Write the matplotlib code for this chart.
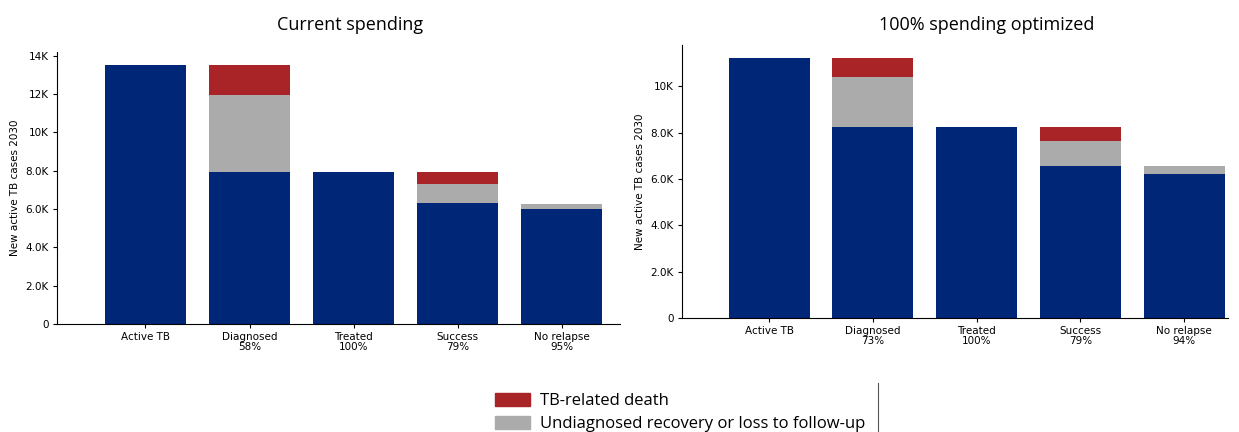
import numpy as np
import matplotlib
matplotlib.use('Agg')
import matplotlib.pyplot as plt
from matplotlib.patches import Patch
from matplotlib.lines import Line2D

# Andmed (tuhandetes juhtudes)
kategooriad = ['Active TB', 'Diagnosed\n58%', 'Treated\n100%', 'Success\n79%', 'No relapse\n95%']
kategooriad_opt = ['Active TB', 'Diagnosed\n73%', 'Treated\n100%', 'Success\n79%', 'No relapse\n94%']

praegu_sinine = [13.53, 7.96, 7.96, 6.29, 5.99]
praegu_hall = [0, 3.97, 0, 1.02, 0.29]
praegu_punane = [0, 1.60, 0, 0.65, 0]

opt_sinine = [11.23, 8.24, 8.24, 6.56, 6.20]
opt_hall = [0, 2.15, 0, 1.09, 0.36]
opt_punane = [0, 0.84, 0, 0.59, 0]

praegu_ticks = [0, 2, 4, 6, 8, 10, 12, 14]
praegu_ticklabels = ['0', '2.0K', '4.0K', '6.0K', '8.0K', '10K', '12K', '14K']
opt_ticks = [0, 2, 4, 6, 8, 10]
opt_ticklabels = ['0', '2.0K', '4.0K', '6.0K', '8.0K', '10K']

SININE = '#002677'
PUNANE = '#A82426'
HALL = '#ABABAB'

fig = plt.figure(figsize=(12.39, 4.32), dpi=100)
ax1 = fig.add_axes([0.046, 0.25, 0.4544, 0.63])
ax2 = fig.add_axes([0.5504, 0.2639, 0.4406, 0.632])


def joonista(ax, nimed, sinine, hall, punane, ticks, ticklabels, xlim):
    x = np.arange(len(nimed))
    sinine = np.array(sinine)
    hall = np.array(hall)
    punane = np.array(punane)
    ax.bar(x, sinine, width=0.78, color=SININE)
    ax.bar(x, hall, width=0.78, bottom=sinine, color=HALL)
    ax.bar(x, punane, width=0.78, bottom=sinine + hall, color=PUNANE)
    ax.set_xticks(x)
    ax.set_xticklabels(nimed, fontsize=7.5, linespacing=0.95)
    ax.set_yticks(ticks)
    ax.set_yticklabels(ticklabels, fontsize=7.5)
    ax.set_ylim(0, (sinine + hall + punane).max() * 1.05)
    ax.set_xlim(*xlim)
    ax.set_ylabel('New active TB cases 2030', fontsize=7.5)
    ax.spines['top'].set_visible(False)
    ax.spines['right'].set_visible(False)
    ax.tick_params(length=3, width=0.8, pad=3)


joonista(ax1, kategooriad, praegu_sinine, praegu_hall, praegu_punane,
         praegu_ticks, praegu_ticklabels, (-0.85, 4.56))
joonista(ax2, kategooriad_opt, opt_sinine, opt_hall, opt_punane,
         opt_ticks, opt_ticklabels, (-0.84, 4.42))

fig.text(350 / 1239, 1 - 25 / 432, 'Current spending', ha='center', va='center',
         fontsize=13, family='Open Sans')
fig.text(987 / 1239, 1 - 25 / 432, '100% spending optimized', ha='center', va='center',
         fontsize=13, family='Open Sans')

kasitsejad = [Patch(color=PUNANE, label='TB-related death'),
              Patch(color=HALL, label='Undiagnosed recovery or loss to follow-up')]
fig.legend(handles=kasitsejad, loc='upper left', bbox_to_anchor=(495 / 1239, 1 - 393 / 432),
           frameon=False, prop={'family': 'Open Sans', 'size': 12},
           handlelength=2.1, handleheight=0.8, handletextpad=0.6, labelspacing=0.43,
           borderaxespad=0, borderpad=0)

fig.add_artist(Line2D([878 / 1239, 878 / 1239], [0, 1 - 383 / 432],
                      transform=fig.transFigure, color='#555555', linewidth=0.8))

plt.savefig('out.png', dpi=100)
